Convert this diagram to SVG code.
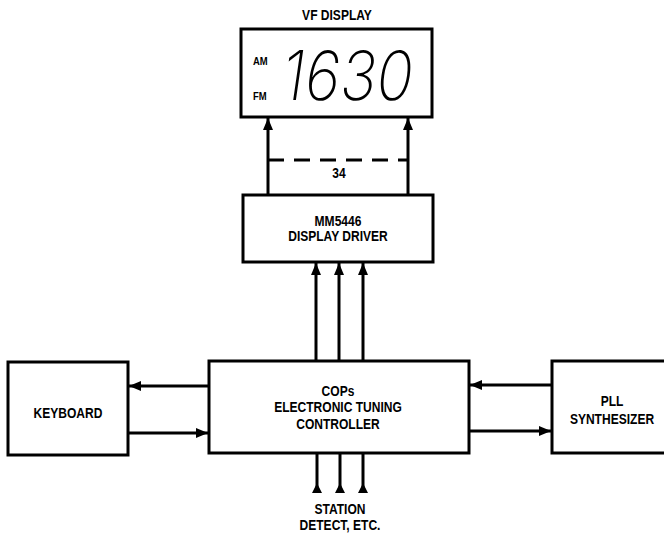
<svg xmlns="http://www.w3.org/2000/svg" width="664" height="536" viewBox="0 0 664 536">
<defs>
<style>
.box{fill:#fff;stroke:#000;stroke-width:3}
.ln{fill:none;stroke:#000;stroke-width:3}
.t{font-family:"Liberation Sans",Arial,sans-serif;font-weight:bold;font-size:14px;text-anchor:middle;fill:#000}
.s{font-family:"Liberation Sans",Arial,sans-serif;font-weight:bold;font-size:11px;fill:#000}
.dig{font-family:Inter,"Liberation Sans",sans-serif;font-weight:200;font-style:italic;font-size:68px;fill:#000}
</style>
<marker id="ah" viewBox="0 0 12 10" refX="12" refY="5" markerWidth="12" markerHeight="10" markerUnits="userSpaceOnUse" orient="auto">
<path d="M0,0 L12,5 L0,10 Z" fill="#000"/>
</marker>
</defs>
<rect width="664" height="536" fill="#fff"/>
<g id="display">
<text class="t" transform="translate(337 20) scale(0.86 1)">VF DISPLAY</text>
<rect class="box" x="241" y="29" width="191" height="88"/>
<text class="s" transform="translate(253 65) scale(0.86 1)">AM</text>
<text class="s" transform="translate(253 100) scale(0.86 1)">FM</text>
<text class="dig" x="282" y="100" textLength="131" lengthAdjust="spacingAndGlyphs">1630</text>
</g>
<g id="driver">
<rect class="box" x="243" y="195" width="190" height="67"/>
<text class="t" transform="translate(338 226) scale(0.86 1)">MM5446</text>
<text class="t" transform="translate(338 241) scale(0.86 1)">DISPLAY DRIVER</text>
</g>
<g id="cops">
<rect class="box" x="209" y="361" width="260" height="92"/>
<text class="t" transform="translate(338 396) scale(0.86 1)">COPs</text>
<text class="t" transform="translate(338 412) scale(0.86 1)">ELECTRONIC TUNING</text>
<text class="t" transform="translate(338 429) scale(0.86 1)">CONTROLLER</text>
</g>
<g id="keyboard">
<rect class="box" x="8" y="362" width="120" height="93"/>
<text class="t" transform="translate(68 418) scale(0.86 1)">KEYBOARD</text>
</g>
<g id="pll">
<rect class="box" x="552" y="361" width="116" height="92"/>
<text class="t" transform="translate(612 406) scale(0.86 1)">PLL</text>
<text class="t" transform="translate(612 424) scale(0.86 1)">SYNTHESIZER</text>
</g>
<g id="station">
<text class="t" transform="translate(340 514) scale(0.86 1)">STATION</text>
<text class="t" transform="translate(340 530) scale(0.86 1)">DETECT, ETC.</text>
</g>
<g id="connectors">
<line class="ln" x1="268" y1="195" x2="268" y2="118" marker-end="url(#ah)"/>
<line class="ln" x1="408" y1="195" x2="408" y2="118" marker-end="url(#ah)"/>
<line class="ln" x1="268" y1="160" x2="408" y2="160" stroke-dasharray="16 10"/>
<text class="t" transform="translate(339 178) scale(0.86 1)">34</text>
<line class="ln" x1="316" y1="361" x2="316" y2="263" marker-end="url(#ah)"/>
<line class="ln" x1="339" y1="361" x2="339" y2="263" marker-end="url(#ah)"/>
<line class="ln" x1="363" y1="361" x2="363" y2="263" marker-end="url(#ah)"/>
<line class="ln" x1="209" y1="386" x2="129" y2="386" marker-end="url(#ah)"/>
<line class="ln" x1="128" y1="433" x2="208" y2="433" marker-end="url(#ah)"/>
<line class="ln" x1="552" y1="385" x2="470" y2="385" marker-end="url(#ah)"/>
<line class="ln" x1="469" y1="431" x2="551" y2="431" marker-end="url(#ah)"/>
<line class="ln" x1="317" y1="453" x2="317" y2="490"/>
<line class="ln" x1="340" y1="453" x2="340" y2="490"/>
<line class="ln" x1="363" y1="453" x2="363" y2="490"/>
<path d="M317,483 L312,493 L322,493 Z M340,483 L335,493 L345,493 Z M363,483 L358,493 L368,493 Z" fill="#000"/>
</g>
</svg>
